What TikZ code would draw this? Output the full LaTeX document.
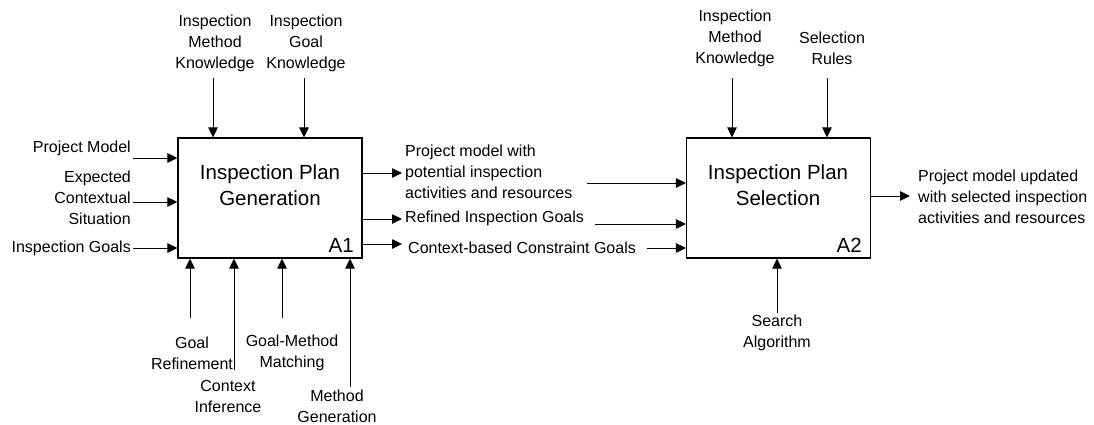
\documentclass[tikz,border=0pt]{standalone}
\usepackage{fontspec}
\setmainfont{Liberation Sans}
\usetikzlibrary{arrows.meta}
\begin{document}
\begin{tikzpicture}[x=1pt,y=-1pt,
  arr/.style={line width=0.9pt,-{Triangle[length=10pt,width=9.5pt]}},
  lbl/.style={inner sep=0pt,font=\fontsize{16}{21}\selectfont},
  act/.style={draw,line width=1.1pt,minimum width=184pt,minimum height=120pt,inner sep=0pt},
  ttl/.style={inner sep=0pt,align=center,font=\fontsize{20.5}{26}\selectfont}]
       \path (0,0) rectangle (1094,424);
       % activity A1
       \node[act] (A1) at (270,198) {};
       \node[ttl] (A1t) at (270,185) {Inspection Plan\\Generation};
       \node[ttl,anchor=east] (A1n) at (354,245) {A1};
       % activity A2
       \node[act] (A2) at (778.5,198) {};
       \node[ttl] (A2t) at (778,185) {Inspection Plan\\Selection};
       \node[ttl,anchor=east] (A2n) at (862,245) {A2};
       % inputs A1
       \node[lbl,anchor=east] (pm) at (131,148) {Project Model};
       \node[lbl,anchor=east,align=right] (ecs) at (131,198) {Expected\\Contextual\\Situation};
       \node[lbl,anchor=east] (ig) at (131,248) {Inspection Goals};
       \coordinate (pmE) at (133,158); \coordinate (ecsE) at (133,202); \coordinate (igE) at (133,248);
       \draw[arr] (pmE)--(pmE -| A1.west); \draw[arr] (ecsE)--(ecsE -| A1.west); \draw[arr] (igE)--(igE -| A1.west);
       % controls A1
       \node[lbl,align=center] (imk) at (215,43) {Inspection\\Method\\Knowledge};
       \node[lbl,align=center] (igk) at (306,43) {Inspection\\Goal\\Knowledge};
       \coordinate (imkS) at (213,78); \coordinate (igkS) at (304,78);
       \draw[arr] (imkS)--(imkS |- A1.north); \draw[arr] (igkS)--(igkS |- A1.north);
       % mechanisms A1
       \node[lbl,align=center] (gr) at (192,353) {Goal\\Refinement};
       \node[lbl,align=center] (ci) at (228,396) {Context\\Inference};
       \node[lbl,align=center] (gmm) at (292,353) {Goal-Method\\Matching};
       \node[lbl,align=center] (mg) at (337,406) {Method\\Generation};
       \coordinate (grN) at (190,318); \coordinate (ciN) at (234,370); \coordinate (gmmN) at (282,318); \coordinate (mgN) at (350,387);
       \draw[arr] (grN)--(grN |- A1.south); \draw[arr] (ciN)--(ciN |- A1.south);
       \draw[arr] (gmmN)--(gmmN |- A1.south); \draw[arr] (mgN)--(mgN |- A1.south);
       % outputs A1 / inputs A2
       \node[lbl,anchor=west,align=left] (pmp) at (405,172) {Project model with\\potential inspection\\activities and resources};
       \node[lbl,anchor=west] (rig) at (405,218) {Refined Inspection Goals};
       \node[lbl,anchor=west] (ccg) at (408,248) {Context-based Constraint Goals};
       \coordinate (o1) at (402,173); \coordinate (o2) at (402,219); \coordinate (o3) at (402,244);
       \draw[arr] (o1 -| A1.east)--(o1); \draw[arr] (o2 -| A1.east)--(o2); \draw[arr] (o3 -| A1.east)--(o3);
       \coordinate (i1) at (587,183); \coordinate (i2) at (595,224); \coordinate (i3) at (647,248);
       \draw[arr] (i1)--(i1 -| A2.west); \draw[arr] (i2)--(i2 -| A2.west); \draw[arr] (i3)--(i3 -| A2.west);
       % controls A2
       \node[lbl,align=center] (imk2) at (735,38) {Inspection\\Method\\Knowledge};
       \node[lbl,align=center] (sr) at (832,48) {Selection\\Rules};
       \coordinate (imk2S) at (732,78); \coordinate (srS) at (827,78);
       \draw[arr] (imk2S)--(imk2S |- A2.north); \draw[arr] (srS)--(srS |- A2.north);
       % mechanism A2
       \node[lbl,align=center] (sa) at (777,333) {Search\\Algorithm};
       \coordinate (saN) at (777,313);
       \draw[arr] (saN)--(saN |- A2.south);
       % output A2
       \node[lbl,anchor=west,align=left] (pmu) at (918,197) {Project model updated\\with selected inspection\\activities and resources};
       \coordinate (o4) at (910,196);
       \draw[arr] (o4 -| A2.east)--(o4);
\end{tikzpicture}
\end{document}
